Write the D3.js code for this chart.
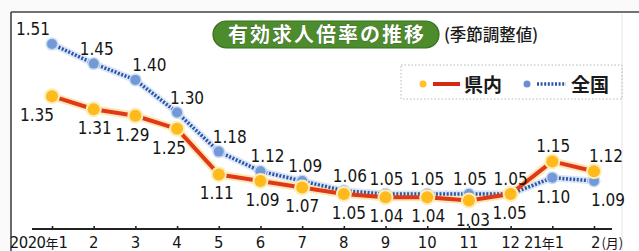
<!DOCTYPE html>
<html><head><meta charset="utf-8">
<script src="https://cdn.jsdelivr.net/npm/d3@7"></script>
<style>
html,body{margin:0;padding:0;background:#fafafa;}
svg{display:block;}
.num{font-family:"Liberation Sans Narrow","DejaVu Sans Condensed","Arial Narrow",sans-serif;font-size:17px;fill:#151515;}
.jp{font-family:"Noto Sans CJK JP",sans-serif;}
</style>
</head><body>
<svg id="c" width="639" height="251"></svg>
<script>
const months = ["1","2","3","4","5","6","7","8","9","10","11","12","1","2"];
const tickLabels = ["2020年1","2","3","4","5","6","7","8","9","10","11","12","21年1","2"];
const prefecture = [1.35,1.31,1.29,1.25,1.11,1.09,1.07,1.05,1.04,1.04,1.03,1.05,1.15,1.12];
const national   = [1.51,1.45,1.40,1.30,1.18,1.12,1.09,1.06,1.05,1.05,1.05,1.05,1.10,1.09];
const seriesNames = ["県内","全国"];
const titleText = "有効求人倍率の推移";
const subTitle = "(季節調整値)";
const unitText = "(月)";

// label nudges (layout only)
const natDx = [-19,3,14,10,11,7,3,6,1,0,1,0,1,14];
const prefDx = [-15,1,-3,-8,-2,2,0,5,1,1,4,-1,1,12];

const svg = d3.select("#c");
const idx = d3.range(months.length);
const x = d3.scalePoint().domain(idx).range([52,594]);
const y = d3.scaleLinear().domain([1.0,1.55]).range([210.3,31.0]);

// frame
svg.append("rect").attr("x",11).attr("y",12).attr("width",640).attr("height",250).attr("fill","#fff");
svg.append("line").attr("x1",11).attr("x2",639).attr("y1",12).attr("y2",12).attr("stroke","#444").attr("stroke-width",1.6);
svg.append("line").attr("x1",11).attr("x2",11).attr("y1",12).attr("y2",251).attr("stroke","#444").attr("stroke-width",1.6);
svg.append("line").attr("x1",622).attr("x2",622).attr("y1",14).attr("y2",251).attr("stroke","#e4e4e4").attr("stroke-width",1);

// title pill
const tg = svg.append("g");
tg.append("rect").attr("x",213).attr("y",21).attr("width",226).attr("height",27).attr("rx",13.5)
  .attr("fill","#4d8c2c").attr("stroke","#3a6e1e").attr("stroke-width",1.2);
tg.append("text").attr("class","jp").attr("x",327).attr("y",42).attr("text-anchor","middle")
  .attr("font-size",20).attr("font-weight",700).attr("fill","#fff").attr("letter-spacing",2)
  .attr("stroke","#2f5a18").attr("stroke-width",0.6).attr("paint-order","stroke")
  .text(titleText);
svg.append("text").attr("class","jp").attr("x",444).attr("y",41).attr("font-size",16.5)
  .attr("font-weight",500).attr("fill","#1a1a1a").text(subTitle);

// legend
const lg = svg.append("g");
lg.append("rect").attr("x",401).attr("y",65).attr("width",221).attr("height",34)
  .attr("fill","none").attr("stroke","#b8b8b8").attr("stroke-width",1).attr("stroke-dasharray","1.5,2");
lg.append("circle").attr("cx",423).attr("cy",84).attr("r",3.5).attr("fill","#ffc02a");
lg.append("line").attr("x1",433).attr("x2",460).attr("y1",84).attr("y2",84).attr("stroke","#d42a12").attr("stroke-width",4);
lg.append("text").attr("class","jp").attr("x",464).attr("y",92).attr("font-size",19).attr("font-weight",700).attr("fill","#1a1a1a").text(seriesNames[0]);
lg.append("circle").attr("cx",527).attr("cy",84).attr("r",3.5).attr("fill","#6a8fd0");
lg.append("line").attr("x1",537).attr("x2",566).attr("y1",84).attr("y2",84).attr("stroke","#2a55a8").attr("stroke-width",3.5).attr("stroke-dasharray","2,1.6");
lg.append("text").attr("class","jp").attr("x",571).attr("y",92).attr("font-size",19).attr("font-weight",700).attr("fill","#1a1a1a").text(seriesNames[1]);

// axis
const axisY = 229;
svg.append("line").attr("x1",32).attr("x2",612).attr("y1",axisY).attr("y2",axisY).attr("stroke","#222").attr("stroke-width",1.8);
const ax = svg.append("g").attr("transform",`translate(0,${axisY})`)
  .call(d3.axisBottom(x).tickSizeInner(-3).tickSizeOuter(0).tickFormat(""));
ax.select(".domain").remove();
ax.selectAll(".tick line").attr("stroke","#222").attr("stroke-width",1.6);
const tl = svg.append("g").attr("class","num");
idx.forEach(i=>{
  let anchor="middle", xx=x(i);
  if(i===0){anchor="end"; xx=x(i)+16;}
  if(i===12){anchor="end"; xx=x(i)+12;}
  if(i===13){anchor="start"; xx=x(i)-3;}
  const t = tl.append("text").attr("x",xx).attr("y",248).attr("text-anchor",anchor).attr("font-size",16.5);
  const lab = tickLabels[i];
  const k = lab.indexOf("年");
  if(k>=0){
    t.append("tspan").attr("letter-spacing",-0.5).text(lab.slice(0,k));
    t.append("tspan").attr("class","jp").attr("font-size",13).text("年");
    t.append("tspan").text(lab.slice(k+1));
  } else t.text(lab);
  if(i===13){ t.append("tspan").attr("class","jp").attr("font-size",13).attr("dx",1).text(unitText); }
});

// lines
const line = d3.line().x((d,i)=>x(i)).y(d=>y(d));
svg.append("path").datum(national).attr("d",line).attr("fill","none").attr("stroke","#dbe6f6").attr("stroke-width",7).attr("stroke-linejoin","round");
svg.append("path").datum(prefecture).attr("d",line).attr("fill","none").attr("stroke","#fde8b4").attr("stroke-width",8).attr("stroke-linejoin","round");
svg.append("path").datum(national).attr("d",line).attr("fill","none").attr("stroke","#2a55a8").attr("stroke-width",3.5).attr("stroke-dasharray","2,1.6");
svg.append("path").datum(prefecture).attr("d",line).attr("fill","none").attr("stroke","#e0381a").attr("stroke-width",4).attr("stroke-linejoin","round");

// markers
svg.append("g").selectAll("circle").data(national).join("circle")
  .attr("cx",(d,i)=>x(i)).attr("cy",d=>y(d)).attr("r",6.5).attr("fill","#cbdaf2");
svg.append("g").selectAll("circle").data(national).join("circle")
  .attr("cx",(d,i)=>x(i)).attr("cy",d=>y(d)).attr("r",5).attr("fill","#7299d8");
svg.append("g").selectAll("circle").data(prefecture).join("circle")
  .attr("cx",(d,i)=>x(i)).attr("cy",d=>y(d)).attr("r",8).attr("fill","#fdedb8");
svg.append("g").selectAll("circle").data(prefecture).join("circle")
  .attr("cx",(d,i)=>x(i)).attr("cy",d=>y(d)).attr("r",6).attr("fill","#ffba1e");

// value labels
const labs = svg.append("g").attr("class","num");
idx.forEach(i=>{
  const natAbove = national[i] >= prefecture[i];
  const dyA = -9, dyB = 25;
  labs.append("text").attr("x",x(i)+natDx[i]).attr("y",y(national[i])+(natAbove?dyA:dyB))
    .attr("text-anchor","middle").text(national[i].toFixed(2));
  labs.append("text").attr("x",x(i)+prefDx[i]).attr("y",y(prefecture[i])+(natAbove?dyB:dyA))
    .attr("text-anchor","middle").text(prefecture[i].toFixed(2));
});
</script>
</body></html>
